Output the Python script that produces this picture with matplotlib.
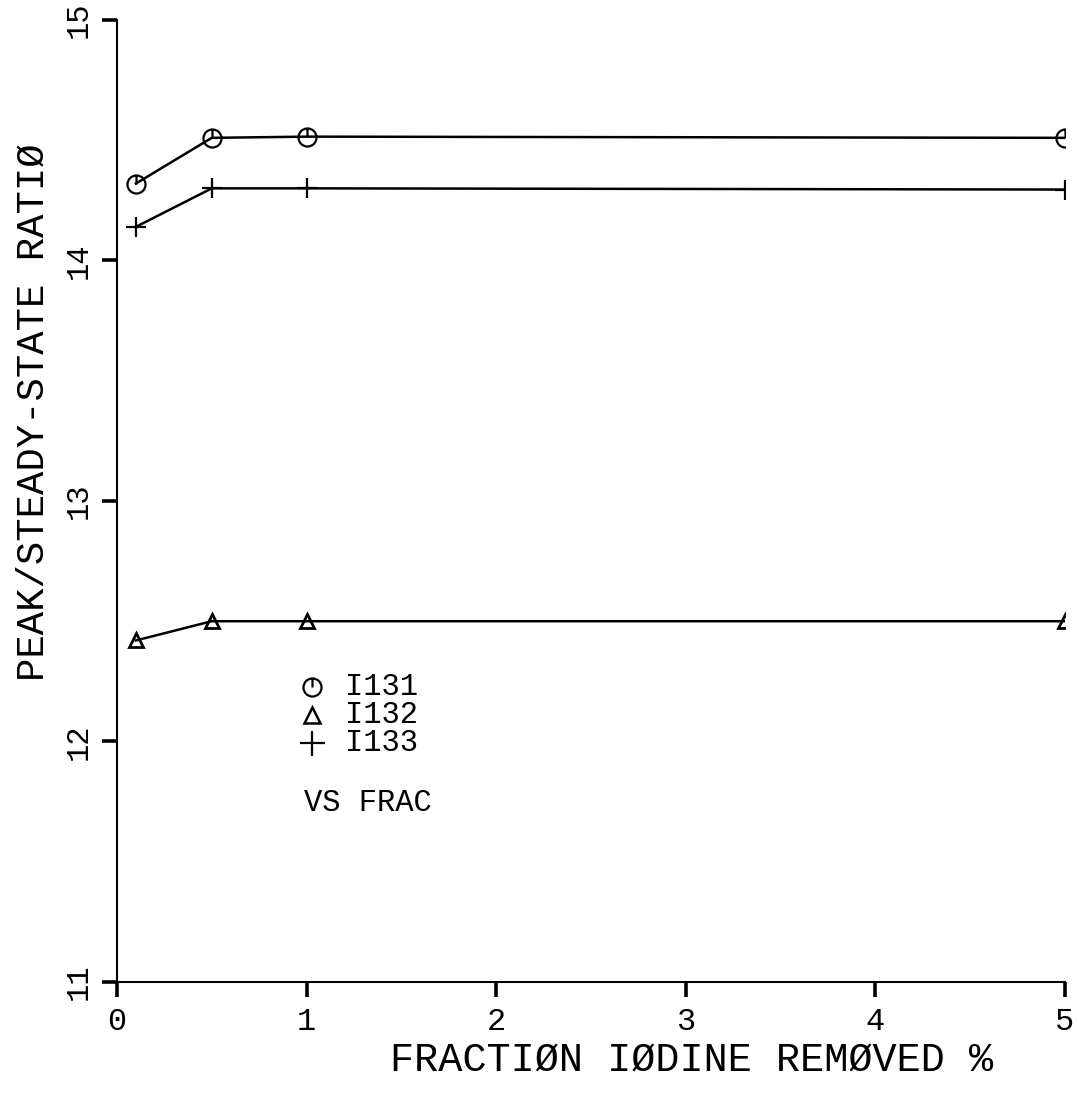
import numpy as np
import matplotlib
matplotlib.use("Agg")
import matplotlib.pyplot as plt
from matplotlib.path import Path

# fraction of iodine removed (%)
frac = [0.1, 0.5, 1.0, 5.0]

# peak / steady-state ratio for each isotope
i131 = [14.32, 14.51, 14.515, 14.51]
i132 = [12.42, 12.50, 12.50, 12.50]
i133 = [14.14, 14.30, 14.30, 14.295]

xticks = [0, 1, 2, 3, 4, 5]
yticks = [11, 12, 13, 14, 15]

FONT = "Liberation Mono"
W, H = 1078, 1093

# circle with a stroke from the top down to the centre
circ_bar = Path.make_compound_path(Path.unit_circle(),
                                   Path([(0, 0), (0, 1)]))

fig = plt.figure(figsize=(W / 100, H / 100), dpi=100)
ax = fig.add_axes([0.1085, 0.1016, 0.8795, 0.8801])

sty = dict(color="black", lw=1.8, mec="black")
ax.plot(frac, i131, marker=circ_bar, ms=13, mfc="none", mew=1.6, **sty)
ax.plot(frac, i132, marker="^", ms=10, mfc="none", mew=2.0, **sty)
ax.plot(frac, i133, marker="+", ms=15, mew=1.6, **sty)

ax.set_xlim(0, 5)
ax.set_ylim(11, 15)
ax.set_xticks(xticks)
ax.set_yticks(yticks)
ax.set_xticklabels([str(v) for v in xticks], fontsize=23, family=FONT)
ax.set_yticklabels([str(v) for v in yticks], fontsize=22, family=FONT,
                   rotation=90, va="center")

for s in ["top", "right"]:
    ax.spines[s].set_visible(False)
for s in ["left", "bottom"]:
    ax.spines[s].set_linewidth(1.5)
ax.tick_params(direction="out", length=11, width=2.6)
ax.tick_params(axis="x", pad=7)
ax.tick_params(axis="y", pad=6)

# axis titles
fig.text(692 / W, 1 - 1060 / H, "FRACTIØN IØDINE REMØVED %", fontsize=29,
         family=FONT, ha="center", va="center")
fig.text(34 / W, 1 - 412 / H, "PEAK/STEADY-STATE RATIØ", fontsize=28,
         family=FONT, ha="center", va="center", rotation=90)

# key
key_x, key_tx = 1.03, 1.2
keys = [(12.227, "I131", dict(marker=circ_bar, ms=13, mfc="none", mew=1.6)),
        (12.11, "I132", dict(marker="^", ms=11, mfc="none", mew=1.8)),
        (11.994, "I133", dict(marker="+", ms=18, mew=1.6))]
for y, lab in [(k[0], k[1]) for k in keys]:
    ax.text(key_tx, y, lab, fontsize=22, family=FONT, va="center")
for y, lab, mk in keys:
    ax.plot([key_x], [y], ls="none", mec="black", **mk)
ax.text(0.985, 11.744, "VS FRAC", fontsize=22, family=FONT, va="center")

fig.savefig("out.png", dpi=100)
